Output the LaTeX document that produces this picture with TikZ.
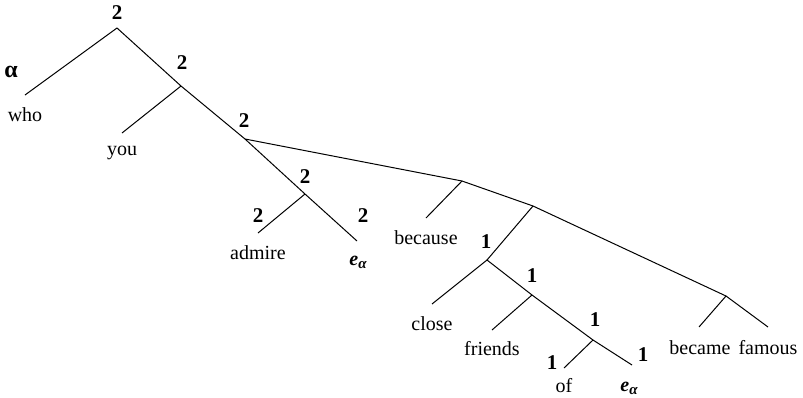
\documentclass[tikz,border=0pt]{standalone}
\usepackage{fontspec}
\setmainfont{Liberation Serif}
\begin{document}
\begin{tikzpicture}[x=1pt,y=-1pt,
  edge/.style={line width=1pt},
  word/.style={font=\fontsize{20}{22}\selectfont, inner sep=0pt},
  num/.style={font=\fontsize{21}{23}\selectfont\bfseries, inner sep=0pt}]
\useasboundingbox (0,0) rectangle (803,397);
\newcommand{\ealpha}{\textbf{\textit{e}}\raisebox{-0.35ex}{\fontsize{15}{17}\selectfont\bfseries\itshape α}}
% junctions
\coordinate (root) at (117,28);
\coordinate (A) at (181,86);
\coordinate (B) at (245,139);
\coordinate (C) at (305,194);
\coordinate (D) at (462,181);
\coordinate (E) at (533,206);
\coordinate (F) at (487,260);
\coordinate (G) at (532,295);
\coordinate (H) at (593,340);
\coordinate (I) at (726,296);
% leaves
\coordinate (who) at (25,95);
\coordinate (you) at (122,133);
\coordinate (admire) at (258,233);
\coordinate (e1) at (357,241);
\coordinate (because) at (426,218);
\coordinate (close) at (432,304);
\coordinate (friends) at (492,330);
\coordinate (of) at (564,368);
\coordinate (e2) at (632,365);
\coordinate (became) at (699,327);
\coordinate (famous) at (768,327);
% edges
\draw[edge] (who) -- (root) -- (A) -- (B) -- (C) -- (e1);
\draw[edge] (A) -- (you);
\draw[edge] (C) -- (admire);
\draw[edge] (B) -- (D) -- (E) -- (I) -- (famous);
\draw[edge] (D) -- (because);
\draw[edge] (E) -- (F) -- (G) -- (H) -- (e2);
\draw[edge] (F) -- (close);
\draw[edge] (G) -- (friends);
\draw[edge] (H) -- (of);
\draw[edge] (I) -- (became);
% words
\node[word] (twho) at (25,115) {who};
\node[word] (tyou) at (122,153) {you};
\node[word] (tadmire) at (258,253) {admire};
\node[word] (te1) at (358,262) {\ealpha};
\node[word] (tbecause) at (426,238) {because};
\node[word] (tclose) at (432,324) {close};
\node[word] (tfriends) at (492,349) {friends};
\node[word] (tof) at (564,386) {of};
\node[word] (te2) at (629,388) {\ealpha};
\node[word] (tbecame) at (700,348) {became};
\node[word] (tfamous) at (768,348) {famous};
% labels
\node[num, font=\fontsize{24}{26}\selectfont\bfseries] (nalpha) at (11,72) {α};
\node[num] (n1) at (117,13) {2};
\node[num] (n2) at (182,63) {2};
\node[num] (n3) at (244,121) {2};
\node[num] (n4) at (305,177) {2};
\node[num] (n5) at (258,216) {2};
\node[num] (n6) at (363,216) {2};
\node[num] (n7) at (486,242) {1};
\node[num] (n8) at (532,276) {1};
\node[num] (n9) at (595,320) {1};
\node[num] (n10) at (552,363) {1};
\node[num] (n11) at (643,355) {1};
\end{tikzpicture}
\end{document}
